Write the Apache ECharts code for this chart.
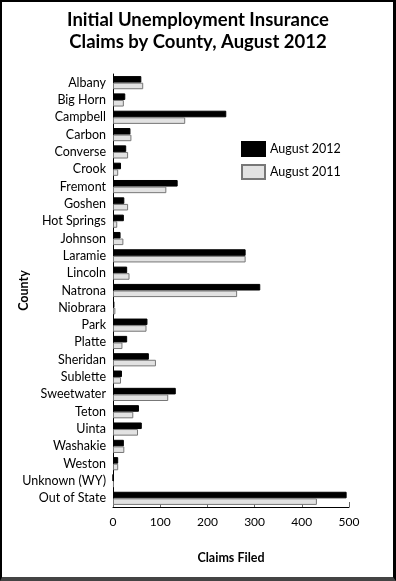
<!DOCTYPE html>
<html><head><meta charset="utf-8">
<script src="https://cdn.jsdelivr.net/npm/echarts@6/dist/echarts.min.js"></script>
<style>
html,body{margin:0;padding:0;background:#fff;}
#frame{position:absolute;left:0;top:0;width:391px;height:575px;border-left:2px solid #000;border-top:2px solid #000;border-right:3px solid #000;border-bottom:4px solid #444;}
#c{position:absolute;left:0;top:0;width:396px;height:581px;}
</style></head>
<body>
<div id="frame"></div>
<div id="c"></div>
<script>
const categories = ["Albany","Big Horn","Campbell","Carbon","Converse","Crook","Fremont","Goshen","Hot Springs","Johnson","Laramie","Lincoln","Natrona","Niobrara","Park","Platte","Sheridan","Sublette","Sweetwater","Teton","Uinta","Washakie","Weston","Unknown (WY)","Out of State"];
const aug2012 = [60,26,240,37,28,17,137,24,23,16,281,30,312,3,73,30,76,19,133,55,61,23,11,0,495];
const aug2011 = [64,23,153,39,32,11,113,32,9,22,281,35,263,5,71,20,91,17,117,43,53,24,11,2,432];
const xTicks = [0,100,200,300,400,500];

const font = "Lato, 'Open Sans', sans-serif";
const chart = echarts.init(document.getElementById('c'), null, {renderer:'canvas'});
chart.setOption({
  animation:false,
  backgroundColor:'transparent',
  title:{
    text:'Initial Unemployment Insurance\nClaims by County, August 2012',
    left:'center', top:9, padding:0,
    textStyle:{fontFamily:font, fontSize:18.5, fontWeight:'bold', color:'#000', lineHeight:22}
  },
  legend:{
    data:['August 2012','August 2011'],
    orient:'vertical', left:236, top:136,
    itemWidth:23, itemHeight:14, itemGap:7,
    textStyle:{fontFamily:font, fontSize:12.5, color:'#000'},
    icon:'rect'
  },
  grid:{left:113, right:47, top:74, bottom:74, containLabel:false, outerBoundsMode:'none'},
  xAxis:{
    type:'value', min:0, max:500, interval:100,
    name:'Claims Filed', nameLocation:'middle', nameGap:44, nameMoveOverlap:false,
    nameTextStyle:{fontFamily:font, fontSize:12.5, fontWeight:'bold', color:'#000'},
    axisLine:{show:true, lineStyle:{color:'#000', width:1}},
    axisTick:{show:true, inside:true, length:5, lineStyle:{color:'#666'}},
    axisLabel:{fontFamily:font, fontSize:12, color:'#000', margin:9,
      formatter:function(v){return xTicks.indexOf(v)>=0?String(v):'';}},
    splitLine:{show:false}
  },
  yAxis:{
    type:'category', data:categories, inverse:true,
    name:'County', nameLocation:'middle', nameGap:83, nameRotate:90, nameMoveOverlap:false,
    nameTextStyle:{fontFamily:font, fontSize:12.5, fontWeight:'bold', color:'#000'},
    axisLine:{show:true, lineStyle:{color:'#000', width:1}},
    axisTick:{show:false},
    axisLabel:{fontFamily:font, fontSize:12.5, color:'#000', margin:7}
  },
  series:[
    {name:'August 2012', type:'bar', data:aug2012, barGap:'0%', barCategoryGap:'24%',
      itemStyle:{color:'#000', borderColor:'#000', borderWidth:1}},
    {name:'August 2011', type:'bar', data:aug2011,
      itemStyle:{color:'#e2e2e2', borderColor:'#777', borderWidth:1}}
  ]
});
</script>
</body></html>
